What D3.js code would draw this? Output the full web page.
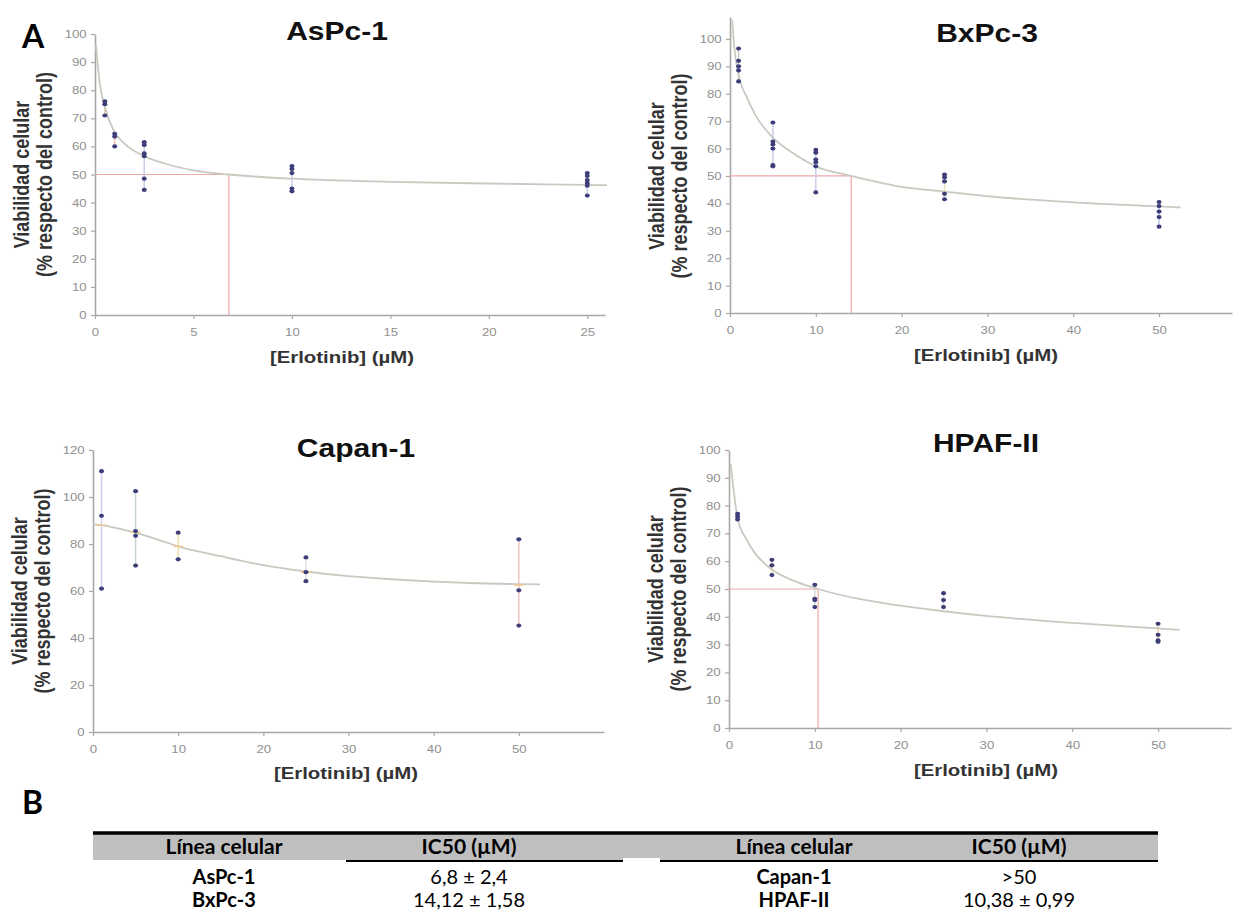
<!DOCTYPE html>
<html>
<head>
<meta charset="utf-8">
<script src="https://cdn.jsdelivr.net/npm/d3@7"></script>
<style>
  body { margin: 0; background: #fff; }
  svg { display: block; }
</style>
</head>
<body>
<div id="chart"></div>
<script>
// concentrations and replicate readings (% of control)
var asConc = [0.5, 1, 2.5, 10, 25];
var asVals = [[76, 75, 71], [64.5, 63.5, 60], [61.5, 60.5, 57.5, 56.5, 48.5, 44.5], [53, 52, 50.5, 45, 44], [50.5, 49.5, 48, 47, 46, 42.5]];
var asCurveX = [0.05, 0.25, 0.5, 1, 1.5, 2.5, 3.5, 5, 6.8, 10, 15, 20, 25, 26];
var asCurveY = [96, 82, 74, 65, 61, 56.5, 54, 51.5, 50, 48.5, 47.4, 46.8, 46.3, 46.2];

var bxConc = [1, 5, 10, 25, 50];
var bxVals = [[96.5, 92, 90, 88.5, 84.5], [69.5, 62.5, 61.5, 60, 54, 53.5], [59.5, 58.5, 56, 55, 53.5, 44], [50.5, 49.5, 48, 43.5, 41.5], [40.5, 39, 37, 35, 31.5]];
var bxCurveX = [0.25, 0.5, 1, 2, 3, 5, 7.5, 10, 14.12, 20, 25, 30, 40, 50, 52.5];
var bxCurveY = [107, 97, 87, 78.5, 72, 64, 58, 53.5, 50, 46, 44.3, 42.6, 40.4, 38.9, 38.5];

var caConc = [1, 5, 10, 25, 50];
var caVals = [[111, 92, 61], [102.5, 85.5, 83.5, 70.8], [84.8, 73.5], [74.3, 68, 64.2], [82, 60.3, 45.3]];
var caMeans = [88, 85, 79, 68, 62.5];
var caCurveX = [0, 1, 2.5, 5, 7.5, 10, 15, 20, 25, 30, 35, 40, 45, 50, 52.5];
var caCurveY = [88.5, 88, 87, 84.8, 82, 79, 74.8, 71, 68.3, 66.3, 65, 64, 63.3, 62.9, 62.8];

var hpConc = [1, 5, 10, 25, 50];
var hpVals = [[77, 76, 75], [60.5, 58.5, 55], [51.5, 46.5, 46, 43.5], [48.5, 46, 43.5], [37.5, 33.5, 31.5, 31]];
var hpCurveX = [0.2, 1, 2, 3, 5, 7.5, 10.38, 15, 20, 25, 30, 40, 50, 52.5];
var hpCurveY = [95, 75.5, 68, 63, 57, 53, 50, 46.5, 44, 42, 40.3, 37.8, 35.8, 35.3];

var ic50 = [6.8, 14.12, null, 10.38];
var titles = ["AsPc-1", "BxPc-3", "Capan-1", "HPAF-II"];

var xTicksA = [0, 5, 10, 15, 20, 25];
var xTicksB = [0, 10, 20, 30, 40, 50];
var yTicks100 = [0, 10, 20, 30, 40, 50, 60, 70, 80, 90, 100];
var yTicks120 = [0, 20, 40, 60, 80, 100, 120];

// table
var tableHeader = ["Línea celular", "IC50 (µM)"];
var tableCells = ["AsPc-1", "BxPc-3", "Capan-1", "HPAF-II"];
var tableIC50 = ["6,8 ± 2,4", "14,12 ± 1,58", ">50", "10,38 ± 0,99"];

var svg = d3.select("#chart").append("svg")
    .attr("width", 1235)
    .attr("height", 910);

// source figure is stretched sideways, so chart text gets the same stretch
var stretch = "scale(1.2,1)";
var chartFont = "Liberation Sans, Arial, sans-serif";

var panels = [
    {conc: asConc, vals: asVals, cx: asCurveX, cy: asCurveY, ic: ic50[0], title: titles[0],
     xd: 25.9, xr: [95, 605], yd: 100, yr: [315, 34], xt: xTicksA, yt: yTicks100,
     tx: 337, ty: 40, lx: 342, ly: 363, bars: ["#f3c9a8", "#e9c0b0", "#c9cde8", "#c9cde8", "#d0d0e8"]},
    {conc: bxConc, vals: bxVals, cx: bxCurveX, cy: bxCurveY, ic: ic50[1], title: titles[1],
     xd: 58.5, xr: [730, 1232], yd: 108, yr: [313, 17], xt: xTicksB, yt: yTicks100,
     tx: 987, ty: 42, lx: 986, ly: 361, bars: ["#c8c8c8", "#c9cde8", "#c9cde8", "#e8e0b8", "#c9cde8"]},
    {conc: caConc, vals: caVals, cx: caCurveX, cy: caCurveY, ic: null, title: titles[2], means: caMeans,
     xd: 60, xr: [93, 604], yd: 120, yr: [732, 450], xt: xTicksB, yt: yTicks120,
     tx: 356, ty: 457, lx: 346, ly: 779, bars: ["#cfd0ee", "#c8d4d4", "#ece2a8", "#e0e0e0", "#f2c4c4"]},
    {conc: hpConc, vals: hpVals, cx: hpCurveX, cy: hpCurveY, ic: ic50[3], title: titles[3],
     xd: 58.5, xr: [729, 1231], yd: 100, yr: [728, 450], xt: xTicksB, yt: yTicks100,
     tx: 986, ty: 452, lx: 986, ly: 776, bars: ["#d8d8d8", "#f0d8b0", "#d8d8d8", "#d8d8d8", "#f3d2a8"]}
];

panels.forEach(function(p) {
    var x = d3.scaleLinear().domain([0, p.xd]).range(p.xr);
    var y = d3.scaleLinear().domain([0, p.yd]).range(p.yr);
    var g = svg.append("g");

    // axes
    var xAxis = g.append("g")
        .attr("transform", "translate(0," + y(0) + ")")
        .call(d3.axisBottom(x).tickValues(p.xt).tickSize(4).tickSizeOuter(0).tickPadding(9));
    var yAxis = g.append("g")
        .attr("transform", "translate(" + x(0) + ",0)")
        .call(d3.axisLeft(y).tickValues(p.yt).tickSize(4).tickSizeOuter(0).tickPadding(3));
    [xAxis, yAxis].forEach(function(a) {
        a.select(".domain").attr("stroke", "#a8a8a8").attr("stroke-width", 1.6);
        a.selectAll(".tick line").attr("stroke", "#a8a8a8").attr("stroke-width", 1.2);
        a.selectAll(".tick text")
            .attr("fill", "#909090")
            .attr("transform", stretch)
            .style("font-family", chartFont)
            .style("font-size", "11px");
    });

    // IC50 guide lines
    if (p.ic !== null) {
        g.append("line")
            .attr("x1", x(0)).attr("x2", x(p.ic))
            .attr("y1", y(50)).attr("y2", y(50))
            .attr("stroke", "#f2a6a6").attr("stroke-width", 1.2);
        g.append("line")
            .attr("x1", x(p.ic)).attr("x2", x(p.ic))
            .attr("y1", y(50)).attr("y2", y(0))
            .attr("stroke", "#f2a6a6").attr("stroke-width", 1.2);
    }

    // error bars (range of replicates)
    p.conc.forEach(function(c, i) {
        g.append("line")
            .attr("x1", x(c)).attr("x2", x(c))
            .attr("y1", y(d3.min(p.vals[i]))).attr("y2", y(d3.max(p.vals[i])))
            .attr("stroke", p.bars[i]).attr("stroke-width", 1.5);
    });

    // fitted curve
    var pts = p.cx.map(function(d, i) { return [d, p.cy[i]]; });
    g.append("path")
        .datum(pts)
        .attr("fill", "none")
        .attr("stroke", "#c8cac0")
        .attr("stroke-width", 1.8)
        .attr("d", d3.line()
            .x(function(d) { return x(d[0]); })
            .y(function(d) { return y(d[1]); })
            .curve(d3.curveMonotoneX));

    if (p.means) {
        p.conc.forEach(function(c, i) {
            g.append("line")
                .attr("x1", x(c) - 5).attr("x2", x(c) + 5)
                .attr("y1", y(p.means[i])).attr("y2", y(p.means[i]))
                .attr("stroke", "#f0c890").attr("stroke-width", 1.5);
        });
    }

    // replicate points
    p.conc.forEach(function(c, i) {
        g.selectAll(null)
            .data(p.vals[i])
            .enter().append("ellipse")
            .attr("cx", x(c))
            .attr("cy", function(d) { return y(d); })
            .attr("rx", 2.5)
            .attr("ry", 2.1)
            .attr("fill", "#3d3d7a");
    });

    // title
    g.append("text")
        .attr("transform", "translate(" + p.tx + "," + p.ty + ") " + stretch)
        .attr("text-anchor", "middle")
        .style("font-family", chartFont)
        .style("font-weight", "bold")
        .style("font-size", "25px")
        .attr("fill", "#111")
        .text(p.title);

    // x label
    g.append("text")
        .attr("transform", "translate(" + p.lx + "," + p.ly + ") " + stretch)
        .attr("text-anchor", "middle")
        .style("font-family", chartFont)
        .style("font-weight", "bold")
        .style("font-size", "17px")
        .attr("fill", "#333")
        .text("[Erlotinib] (µM)");

    // y label (two lines)
    var cyMid = (p.yr[0] + y(100)) / 2;
    if (p.yd === 120) cyMid = (p.yr[0] + p.yr[1]) / 2;
    ["Viabilidad celular", "(% respecto del control)"].forEach(function(t, i) {
        g.append("text")
            .attr("transform", "translate(" + (x(0) - 72 + i * 23) + "," + cyMid + ") rotate(-90) scale(1,1.2)")
            .attr("text-anchor", "middle")
            .attr("dominant-baseline", "middle")
            .style("font-family", chartFont)
            .style("font-weight", "bold")
            .style("font-size", "18px")
            .attr("fill", "#333")
            .text(t);
    });
});

// panel letters
svg.append("text").attr("x", 22).attr("y", 48)
    .style("font-family", "Lato, sans-serif").style("font-weight", "bold").style("font-size", "32px")
    .text("A");
svg.append("text").attr("x", 22).attr("y", 814)
    .style("font-family", "Lato, sans-serif").style("font-weight", "bold").style("font-size", "32px")
    .text("B");

// table
var tbl = svg.append("g");
tbl.append("rect")
    .attr("x", 93).attr("y", 834).attr("width", 1065).attr("height", 26)
    .attr("fill", "#bfbfbf");
tbl.append("line")
    .attr("x1", 93).attr("x2", 1158).attr("y1", 833).attr("y2", 833)
    .attr("stroke", "#000").attr("stroke-width", 3.5);
tbl.append("line")
    .attr("x1", 346).attr("x2", 623).attr("y1", 861).attr("y2", 861)
    .attr("stroke", "#000").attr("stroke-width", 2);
tbl.append("line")
    .attr("x1", 660).attr("x2", 1158).attr("y1", 861).attr("y2", 861)
    .attr("stroke", "#000").attr("stroke-width", 2);
tbl.append("rect")
    .attr("x", 623).attr("y", 858).attr("width", 37).attr("height", 4)
    .attr("fill", "#fff");

var colX = [224, 469, 794, 1019];
[0, 1].forEach(function(t) {
    tableHeader.forEach(function(h, j) {
        tbl.append("text")
            .attr("x", colX[t * 2 + j]).attr("y", 854)
            .attr("text-anchor", "middle")
            .style("font-family", "Lato, sans-serif")
            .style("font-weight", "bold")
            .style("font-size", "21px")
            .text(h);
    });
});
tableCells.forEach(function(c, i) {
    var t = Math.floor(i / 2), r = i % 2;
    tbl.append("text")
        .attr("x", colX[t * 2]).attr("y", 884 + r * 23)
        .attr("text-anchor", "middle")
        .style("font-family", "Lato, sans-serif")
        .style("font-weight", "bold")
        .style("font-size", "20px")
        .text(c);
    tbl.append("text")
        .attr("x", colX[t * 2 + 1]).attr("y", 884 + r * 23)
        .attr("text-anchor", "middle")
        .style("font-family", "Lato, sans-serif")
        .style("font-size", "20px")
        .text(tableIC50[i]);
});
</script>
</body>
</html>
